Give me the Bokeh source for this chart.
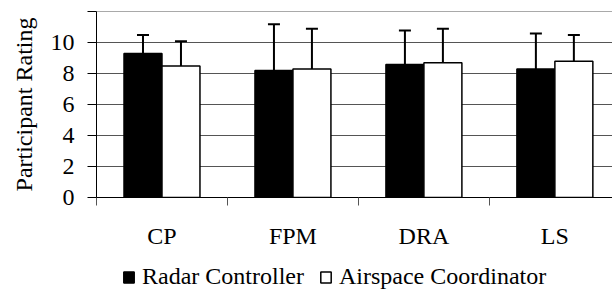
from bokeh.plotting import figure
from bokeh.layouts import column
from bokeh.models import (FixedTicker, Whisker, TeeHead, Legend, LegendItem,
                          ColumnDataSource, Range1d)
from bokeh.embed import file_html
from bokeh.resources import INLINE

categories = ["CP", "FPM", "DRA", "LS"]
radar_mean = [9.3, 8.2, 8.6, 8.3]
radar_sd = [1.2, 3.0, 2.2, 2.3]
airspace_mean = [8.5, 8.3, 8.7, 8.8]
airspace_sd = [1.6, 2.6, 2.2, 1.7]
y_ticks = [0, 2, 4, 6, 8, 10, 12]
series_names = ["Radar Controller", "Airspace Coordinator"]

FONT = "Liberation Serif"
bar_w = 0.29
idx = list(range(len(categories)))

src_r = ColumnDataSource(dict(
    x=[i + 0.5 - bar_w / 2 for i in idx], top=radar_mean,
    upper=[m + s for m, s in zip(radar_mean, radar_sd)]))
src_a = ColumnDataSource(dict(
    x=[i + 0.5 + bar_w / 2 for i in idx], top=airspace_mean,
    upper=[m + s for m, s in zip(airspace_mean, airspace_sd)]))

p = figure(width=612, height=258, output_backend="svg", toolbar_location=None,
           x_range=Range1d(0, 3.94), y_range=Range1d(0, 12.02),
           min_border_left=96, min_border_right=0, min_border_top=11,
           min_border_bottom=61)
p.outline_line_color = None
p.background_fill_color = "white"
p.border_fill_color = "white"

r1 = p.vbar(x="x", top="top", width=bar_w, source=src_r,
            fill_color="black", line_color="black", line_width=1.5)
r2 = p.vbar(x="x", top="top", width=bar_w, source=src_a,
            fill_color="white", line_color="black", line_width=1.5)

for src in (src_r, src_a):
    w = Whisker(base="x", lower="top", upper="upper", source=src,
                line_color="black", line_width=2,
                upper_head=TeeHead(size=12, line_width=2, line_color="black"),
                lower_head=None)
    p.add_layout(w)

# y axis
p.yaxis.ticker = FixedTicker(ticks=y_ticks)
p.yaxis.major_label_overrides = {12: ""}
p.yaxis.major_tick_in = 0
p.yaxis.major_tick_out = 9
p.yaxis.minor_tick_line_color = None
p.yaxis.axis_line_color = "black"
p.yaxis.major_tick_line_color = "black"
p.yaxis.major_label_text_font = FONT
p.yaxis.major_label_text_font_size = "24px"
p.yaxis.major_label_text_color = "black"
p.yaxis.major_label_standoff = 13
p.yaxis.axis_label = "Participant Rating"
p.yaxis.axis_label_text_font = FONT
p.yaxis.axis_label_text_font_size = "24px"
p.yaxis.axis_label_text_font_style = "normal"
p.yaxis.axis_label_text_color = "black"
p.yaxis.axis_label_standoff = 11

# x axis
p.xaxis.ticker = FixedTicker(ticks=[i + 0.5 for i in idx],
                             minor_ticks=[0, 1, 2, 3, 4])
p.xaxis.major_label_overrides = {i + 0.5: c for i, c in zip(idx, categories)}
p.xaxis.major_tick_in = 0
p.xaxis.major_tick_out = 0
p.xaxis.minor_tick_in = 0
p.xaxis.minor_tick_out = 8
p.xaxis.minor_tick_line_color = "#555555"
p.xaxis.axis_line_color = "black"
p.xaxis.major_label_text_font = FONT
p.xaxis.major_label_text_font_size = "24px"
p.xaxis.major_label_text_color = "black"
p.xaxis.major_label_standoff = 17

p.xgrid.grid_line_color = None
p.ygrid.grid_line_color = "#555555"
p.ygrid.grid_line_width = 1

# legend strip below the chart (its frame aligns with the chart frame)
lp = figure(width=612, height=34, output_backend="svg", toolbar_location=None,
            x_range=Range1d(0, 1), y_range=Range1d(0, 1),
            x_axis_type=None, y_axis_type=None, min_border=0)
lp.outline_line_color = None
lp.xgrid.visible = False
lp.ygrid.visible = False
lr1 = lp.vbar(x=[5], top=[0], width=0.1, fill_color="black",
              line_color="black", line_width=1.5)
lr2 = lp.vbar(x=[5], top=[0], width=0.1, fill_color="white",
              line_color="black", line_width=1.5)
legend = Legend(items=[LegendItem(label=series_names[0], renderers=[lr1]),
                       LegendItem(label=series_names[1], renderers=[lr2])],
                orientation="horizontal", location=(26, 2),
                label_text_font=FONT, label_text_font_size="24px",
                label_text_color="black",
                glyph_width=13, glyph_height=14, label_standoff=7, spacing=15,
                padding=0, margin=0, border_line_color=None,
                background_fill_alpha=0)
lp.add_layout(legend, "center")

open("out.html", "w").write(file_html(column(p, lp, spacing=0), INLINE))
